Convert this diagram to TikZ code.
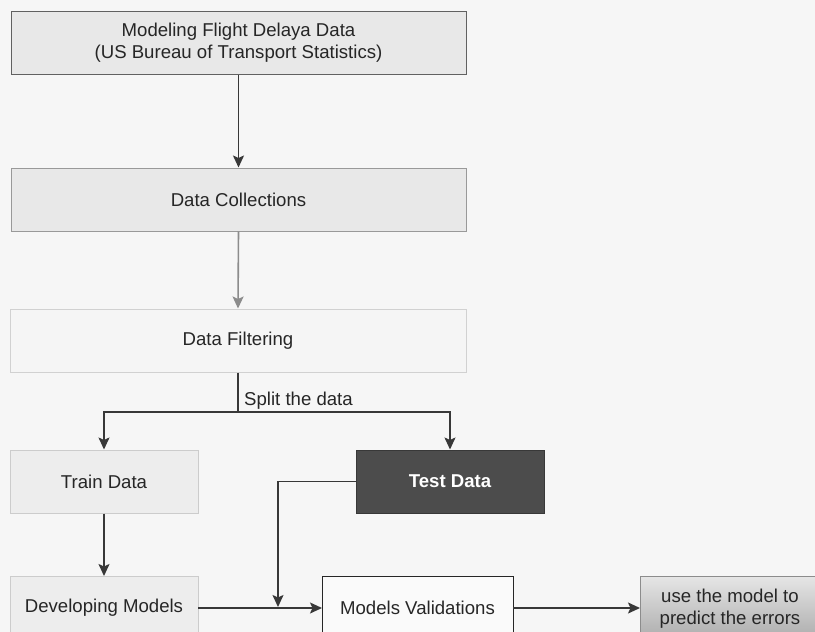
\documentclass[tikz,border=0pt]{standalone}
\usepackage{fontspec}
\setmainfont{Liberation Sans}
\usetikzlibrary{arrows.meta}
\definecolor{bg}{HTML}{F6F6F6}
\definecolor{arrc}{HTML}{383838}
\begin{document}
\begin{tikzpicture}[x=1pt,y=-1pt,
  box/.style={draw, line width=1pt, minimum height=63pt, inner sep=0pt, align=center, font=\fontsize{18.6}{22}\selectfont, text=black!85},
  arr/.style={draw=arrc, line width=1.6pt, -{Stealth[length=12pt,width=11pt,inset=2.5pt]}},
  lin/.style={draw=arrc, line width=1.6pt}]
\useasboundingbox (0,0) rectangle (815,632);
\clip (0,0) rectangle (815,632);
\fill[bg] (0,0) rectangle (815,632);

\node[box, fill=black!9, draw=black!62, minimum width=455pt] (src) at (238.5,42.5) {Modeling Flight Delaya Data\\(US Bureau of Transport Statistics)};
\node[box, fill=black!9, draw=black!40, minimum width=455pt] (col) at (238.5,199.5) {Data Collections};
\node[box, fill=black!4, draw=black!18, minimum width=456pt] (fil) at (238,340.5) {Data Filtering};
\node[box, fill=black!7, draw=black!20, minimum width=188pt] (train) at (104,481.5) {Train Data};
\node[box, fill=black!70, draw=black!78, minimum width=188pt, text=white, font=\fontsize{18.6}{22}\selectfont\bfseries] (test) at (450,481.5) {Test Data};
\node[box, fill=black!7, draw=black!20, minimum width=188pt, anchor=north] (dev) at (104,576) {Developing Models};
\node[box, fill=black!2, draw=black!85, minimum width=191pt, anchor=north] (val) at (417.5,576) {Models Validations};
\node[box, draw=black!45, minimum width=178pt, anchor=north west, top color=black!10, bottom color=black!35, minimum height=70pt] (use) at (640,576) {};
\node[font=\fontsize{18.6}{22}\selectfont, text=black!85, align=center] (usetxt) at (730,608.5) {use the model to\\predict the errors};

\draw[arr] (src.south) -- (col.north);
\draw[arr, draw=black!45] (col.south) -- (fil.north);
\coordinate (split) at (238,412);
\draw[lin] (fil.south) -- (split);
\draw[arr] (split) -| (train.north);
\draw[arr] (split) -| (test.north);
\node[anchor=south west, inner sep=0pt, font=\fontsize{18.6}{22}\selectfont, text=black!85] (splitlbl) at (244,410) {Split the data};

\draw[arr] (train.south) -- (dev.north);
\coordinate (devout) at (198,608);
\coordinate (valin) at (322,608);
\draw[arr] (devout) -- (valin);
\coordinate (tend) at (278,607);
\draw[arr] (test.west) -| (tend);
\coordinate (valout) at (513,608);
\coordinate (usein) at (640,608);
\draw[arr] (valout) -- (usein);
\end{tikzpicture}
\end{document}
